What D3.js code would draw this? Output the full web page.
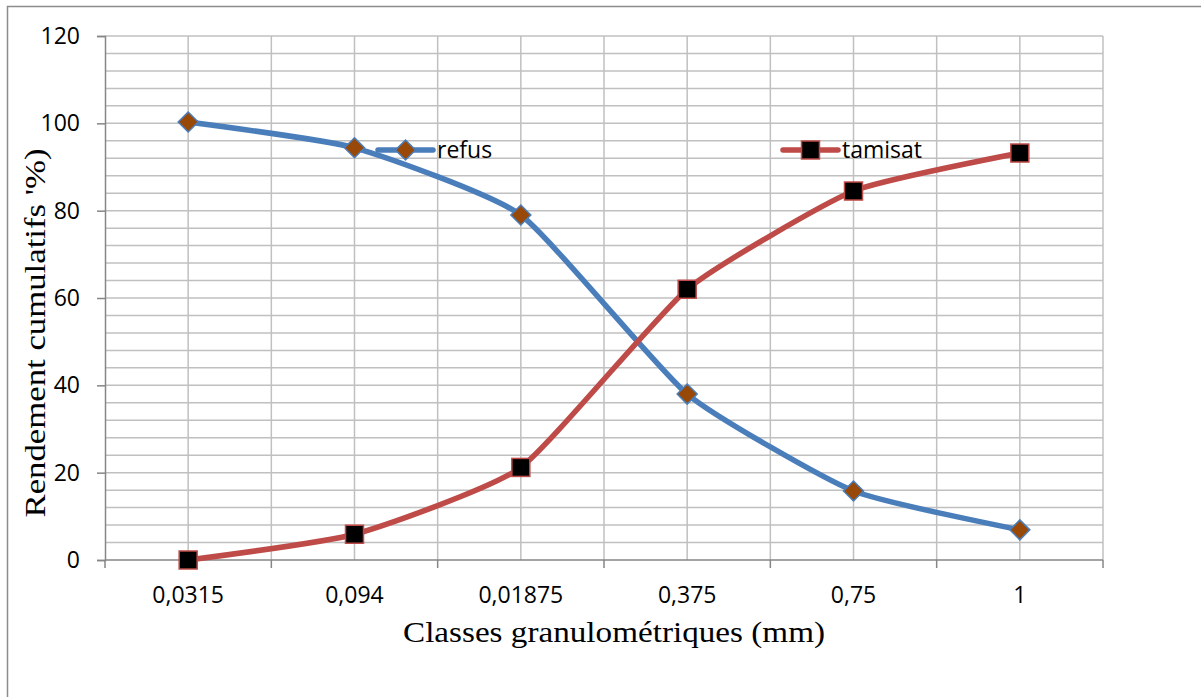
<!DOCTYPE html>
<html>
<head>
<meta charset="utf-8">
<script src="https://cdn.jsdelivr.net/npm/d3@7"></script>
<style>
  html, body { margin: 0; padding: 0; background: #fff; }
  svg { display: block; }
</style>
</head>
<body>
<svg id="chart" width="1201" height="697"></svg>
<script>
// Granulometric classes (mm) and cumulative yields (%)
const classes = ["0,0315", "0,094", "0,01875", "0,375", "0,75", "1"];
const refus   = [100.3, 94.4, 79.0, 38.0, 15.8, 6.9];
const tamisat = [0.0, 5.9, 21.2, 62.0, 84.5, 93.2];
const yTicks  = [0, 20, 40, 60, 80, 100, 120];

const svg = d3.select("#chart");
const W = 1201, H = 697;
const plot = { left: 105, right: 1103, top: 36, bottom: 560 };
const sans = "'Open Sans', 'Noto Sans', sans-serif";
const serif = "'Liberation Serif', 'Times New Roman', serif";

// Outer frame (left and top edges visible)
svg.append("path")
  .attr("d", `M7.5,${H} V6.5 H${W}`)
  .attr("fill", "none").attr("stroke", "#8c8c8c").attr("stroke-width", 1.5);

const x = d3.scaleBand().domain(classes).range([plot.left, plot.right]).padding(0);
const y = d3.scaleLinear().domain([0, 120]).range([plot.bottom, plot.top]);
const cx = d => x(d) + x.bandwidth() / 2;

const grid = svg.append("g").attr("stroke", "#c0c0c0").attr("stroke-width", 1.5);

// Horizontal gridlines every 4 units
grid.selectAll("line.h").data(d3.range(4, 121, 4)).join("line")
  .attr("x1", plot.left).attr("x2", plot.right)
  .attr("y1", d => y(d)).attr("y2", d => y(d));

// Vertical gridlines at category centres and boundaries
const vPos = [];
classes.forEach(c => { vPos.push(x(c)); vPos.push(cx(c)); });
vPos.push(plot.right);
grid.selectAll("line.v").data(vPos.slice(1)).join("line")
  .attr("x1", d => d).attr("x2", d => d)
  .attr("y1", plot.top).attr("y2", plot.bottom);

// Y axis
const yAxis = svg.append("g")
  .attr("transform", `translate(${plot.left},0)`)
  .call(d3.axisLeft(y).tickValues(yTicks).tickSize(8).tickPadding(17));
yAxis.select(".domain").attr("stroke", "#868686").attr("stroke-width", 1.5);
yAxis.selectAll(".tick line").attr("stroke", "#868686").attr("stroke-width", 1.5);
yAxis.selectAll(".tick text")
  .attr("font-family", sans).attr("font-size", 23).attr("fill", "#000");

// X axis with ticks on category boundaries
const xAxisG = svg.append("g").attr("transform", `translate(0,${plot.bottom})`);
xAxisG.append("line")
  .attr("x1", plot.left).attr("x2", plot.right)
  .attr("stroke", "#868686").attr("stroke-width", 1.5);
const bounds = classes.map(c => x(c)).concat([plot.right]);
xAxisG.selectAll("line.tk").data(bounds).join("line")
  .attr("x1", d => d).attr("x2", d => d).attr("y1", 0).attr("y2", 8)
  .attr("stroke", "#868686").attr("stroke-width", 1.5);
xAxisG.selectAll("text").data(classes).join("text")
  .attr("x", d => cx(d)).attr("y", 43)
  .attr("text-anchor", "middle")
  .attr("font-family", sans).attr("font-size", 23).attr("fill", "#000")
  .text(d => d);

// Axis titles
svg.append("text")
  .attr("x", 614).attr("y", 642)
  .attr("text-anchor", "middle")
  .attr("font-family", serif).attr("font-size", 29).attr("fill", "#000")
  .attr("textLength", 422).attr("lengthAdjust", "spacingAndGlyphs")
  .text("Classes granulométriques (mm)");
svg.append("text")
  .attr("transform", "translate(45,333) rotate(-90)")
  .attr("text-anchor", "middle")
  .attr("font-family", serif).attr("font-size", 29).attr("fill", "#000")
  .attr("textLength", 369).attr("lengthAdjust", "spacingAndGlyphs")
  .text("Rendement cumulatifs '%)");

// Series
const blue = "#4a7ebb", red = "#be4b48";
const line = d3.line().x((d, i) => cx(classes[i])).y(d => y(d))
  .curve(d3.curveCardinal.tension(0.5));

svg.append("path").datum(refus).attr("d", line)
  .attr("fill", "none").attr("stroke", blue).attr("stroke-width", 5.5)
  .attr("stroke-linejoin", "round");
svg.append("path").datum(tamisat).attr("d", line)
  .attr("fill", "none").attr("stroke", red).attr("stroke-width", 5.5)
  .attr("stroke-linejoin", "round");

function diamond(g, px, py) {
  g.append("path")
    .attr("d", `M${px},${py - 10} L${px + 10},${py} L${px},${py + 10} L${px - 10},${py} Z`)
    .attr("fill", "#984807").attr("stroke", blue).attr("stroke-width", 1.5);
}
function square(g, px, py) {
  g.append("rect")
    .attr("x", px - 9).attr("y", py - 9).attr("width", 18).attr("height", 18)
    .attr("fill", "#000").attr("stroke", red).attr("stroke-width", 1.5);
}

const markers = svg.append("g");
refus.forEach((v, i) => diamond(markers, cx(classes[i]), y(v)));
tamisat.forEach((v, i) => square(markers, cx(classes[i]), y(v)));

// Legend entries placed inside the plot
const legend = svg.append("g");
const legendItems = [
  { name: "refus", x0: 378, color: blue, marker: diamond },
  { name: "tamisat", x0: 783, color: red, marker: square }
];
const ly = 150;
legendItems.forEach(it => {
  legend.append("line")
    .attr("x1", it.x0).attr("x2", it.x0 + 55).attr("y1", ly).attr("y2", ly)
    .attr("stroke", it.color).attr("stroke-width", 5.5).attr("stroke-linecap", "round");
  it.marker(legend, it.x0 + 27.5, ly);
  legend.append("text")
    .attr("x", it.x0 + 59).attr("y", ly + 8)
    .attr("font-family", sans).attr("font-size", 23).attr("fill", "#000")
    .text(it.name);
});
</script>
</body>
</html>
